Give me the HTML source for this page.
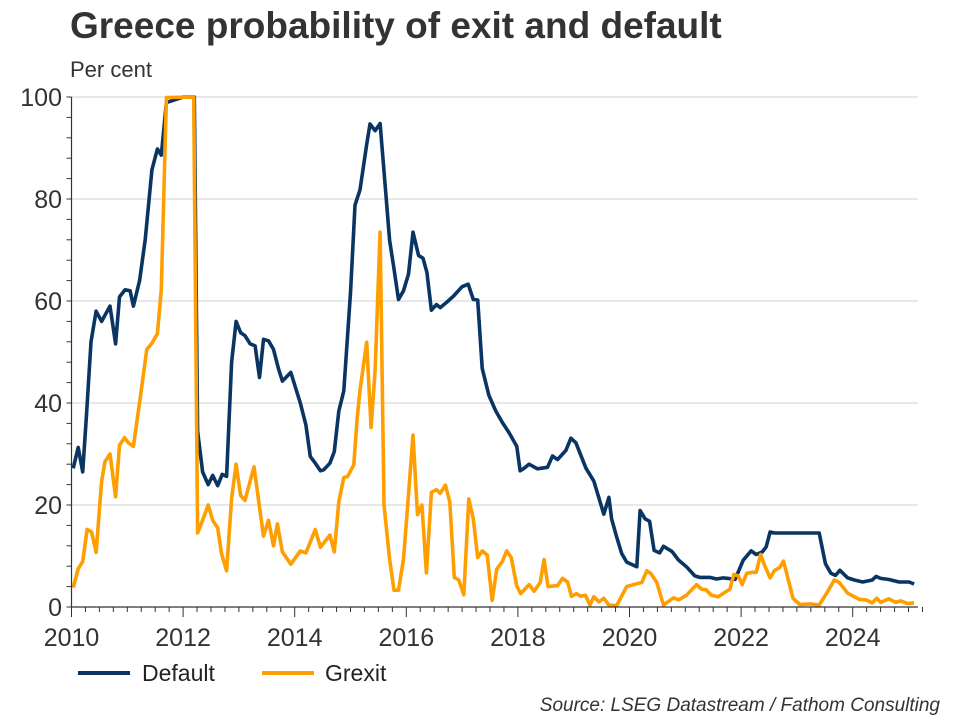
<!DOCTYPE html>
<html><head><meta charset="utf-8"><style>
body{margin:0;background:#fff;font-family:"Liberation Sans",sans-serif}
#c{position:relative;width:960px;height:720px;overflow:hidden}
</style></head><body>
<div id="c">
<svg id="s" width="960" height="720" xmlns="http://www.w3.org/2000/svg" font-family="Liberation Sans">
<text x="70" y="38" font-size="37" font-weight="bold" fill="#333">Greece probability of exit and default</text>
<text x="70" y="77" font-size="22" fill="#333">Per cent</text>
<g id="grid"></g><g id="series"></g><g id="axes"></g>
<g>
<line x1="78" y1="673" x2="130" y2="673" stroke="#0a3563" stroke-width="4"/>
<text x="142" y="681" font-size="23" fill="#222">Default</text>
<line x1="262" y1="673" x2="314" y2="673" stroke="#ff9e00" stroke-width="4"/>
<text x="325" y="681" font-size="23" fill="#222">Grexit</text>
</g>
<text x="940" y="711" font-size="19" font-style="italic" fill="#333" text-anchor="end">Source: LSEG Datastream / Fathom Consulting</text>
</svg>
</div>
<script>
const yTicks=[0,20,40,60,80,100];
const xTicks=[2010,2012,2014,2016,2018,2020,2022,2024];
const defT=[2010.03,2010.12,2010.2,2010.27,2010.35,2010.44,2010.54,2010.69,2010.79,2010.86,2010.96,2011.05,2011.11,2011.22,2011.32,2011.44,2011.54,2011.61,2011.7,2011.92,2012.0,2012.2,2012.26,2012.35,2012.45,2012.53,2012.62,2012.7,2012.78,2012.87,2012.95,2013.03,2013.11,2013.2,2013.29,2013.37,2013.44,2013.53,2013.62,2013.71,2013.78,2013.93,2014.1,2014.2,2014.28,2014.37,2014.46,2014.52,2014.63,2014.71,2014.79,2014.88,2015.0,2015.08,2015.17,2015.29,2015.35,2015.44,2015.53,2015.62,2015.7,2015.78,2015.86,2015.95,2016.04,2016.12,2016.22,2016.3,2016.37,2016.45,2016.54,2016.61,2016.73,2016.85,2017.0,2017.11,2017.2,2017.28,2017.36,2017.48,2017.6,2017.72,2017.84,2017.98,2018.04,2018.11,2018.2,2018.35,2018.53,2018.62,2018.71,2018.86,2018.95,2019.04,2019.22,2019.36,2019.54,2019.63,2019.68,2019.77,2019.86,2019.95,2020.13,2020.19,2020.28,2020.36,2020.44,2020.54,2020.61,2020.76,2020.88,2021.02,2021.17,2021.26,2021.44,2021.56,2021.68,2021.77,2021.89,2022.04,2022.18,2022.27,2022.38,2022.45,2022.52,2022.6,2023.4,2023.51,2023.61,2023.69,2023.77,2023.91,2024.03,2024.18,2024.35,2024.42,2024.5,2024.65,2024.83,2025.01,2025.1];
const defV=[27.2,31.3,26.5,38,52,58,56,59,51.6,60.8,62.2,62,59,64,72,85.7,89.8,88.6,98.9,99.7,100,100,34.5,26.5,24,25.8,23.8,26,25.6,48,56,53.8,53.2,51.6,51.2,45,52.5,52.2,50.5,46.7,44.3,46,40,35.7,29.5,28.2,26.7,26.9,28.2,30.5,38.4,42.4,61.6,78.8,81.8,90.7,94.7,93.4,94.8,82.8,71.9,66.3,60.3,62,65.3,73.5,68.9,68.4,65.6,58.2,59.3,58.7,59.8,61,62.8,63.3,60.3,60.2,46.8,41.5,38.5,36.2,34.2,31.5,26.7,27.2,28,27.1,27.4,29.6,28.9,30.7,33.1,32.2,27.2,24.7,18.2,21.5,17.3,13.7,10.5,8.8,7.9,18.9,17.3,16.8,11.1,10.6,11.9,10.9,9.2,7.9,6.1,5.8,5.8,5.5,5.7,5.6,5.4,9.2,11,10.3,10.8,11.8,14.7,14.5,14.5,8.5,6.6,6.2,7.2,5.7,5.3,4.9,5.3,6.0,5.6,5.4,4.9,4.9,4.5];
const grxT=[2010.03,2010.12,2010.2,2010.28,2010.36,2010.44,2010.54,2010.6,2010.69,2010.79,2010.86,2010.95,2011.02,2011.11,2011.23,2011.35,2011.44,2011.54,2011.61,2011.7,2012.19,2012.26,2012.35,2012.45,2012.53,2012.62,2012.69,2012.78,2012.87,2012.95,2013.03,2013.11,2013.27,2013.44,2013.53,2013.62,2013.69,2013.78,2013.93,2014.1,2014.2,2014.37,2014.46,2014.63,2014.71,2014.79,2014.88,2014.95,2015.06,2015.12,2015.17,2015.29,2015.37,2015.44,2015.53,2015.6,2015.7,2015.78,2015.86,2015.95,2016.04,2016.12,2016.2,2016.28,2016.36,2016.45,2016.54,2016.61,2016.7,2016.78,2016.86,2016.94,2017.03,2017.12,2017.2,2017.28,2017.36,2017.45,2017.54,2017.62,2017.72,2017.8,2017.88,2017.98,2018.05,2018.2,2018.29,2018.4,2018.47,2018.54,2018.71,2018.8,2018.89,2018.96,2019.05,2019.13,2019.21,2019.29,2019.36,2019.45,2019.54,2019.63,2019.77,2019.95,2020.07,2020.22,2020.31,2020.38,2020.49,2020.61,2020.79,2020.88,2021.02,2021.2,2021.29,2021.37,2021.47,2021.59,2021.74,2021.8,2021.87,2021.95,2022.02,2022.1,2022.2,2022.27,2022.35,2022.42,2022.52,2022.6,2022.69,2022.76,2022.93,2023.05,2023.23,2023.4,2023.55,2023.67,2023.76,2023.91,2024.12,2024.24,2024.35,2024.43,2024.5,2024.65,2024.77,2024.86,2024.98,2025.1];
const grxV=[3.8,7.5,8.9,15.2,14.7,10.7,24.6,28.5,30,21.6,31.7,33.2,32.2,31.5,40.8,50.5,51.7,53.6,62.2,99.9,100,14.5,17,20,17,15.5,10.4,7.1,21.3,28,21.9,20.9,27.5,13.9,17,12,16.3,10.8,8.4,11,10.6,15.2,11.7,14.1,10.8,20.6,25.4,25.6,27.9,37.1,42.5,51.9,35.2,46.4,73.5,20,9.4,3.3,3.3,9.4,22,33.7,18.1,20,6.7,22.5,23,22.3,23.9,20.6,5.8,5.3,2.4,21.2,17.3,9.7,11,10.2,1.3,7.4,8.9,11,9.7,4.1,2.6,4.4,3.1,4.8,9.3,4,4.2,5.6,4.9,2.1,2.6,2.1,2.3,0.4,2,1,1.7,0.4,0.3,4,4.4,4.8,7.1,6.6,4.8,0.4,1.8,1.4,2.3,4.4,3.5,3.4,2.3,2,3.1,3.5,6.4,6.1,4.4,6.6,6.8,6.8,10.3,8.2,5.7,7.2,7.7,9,1.7,0.5,0.6,0.4,3,5.3,4.8,2.7,1.5,1.4,0.8,1.7,0.9,1.6,0.9,1.2,0.7,0.8];

const X0=71.5,XL=918,Y0=607,YT=97;
const xs=t=>X0+(t-2010)*55.8;
const ys=v=>Y0-(v/100)*(Y0-YT);
const NS='http://www.w3.org/2000/svg';
function mk(tag,attrs,parent){const e=document.createElementNS(NS,tag);for(const k in attrs)e.setAttribute(k,attrs[k]);parent.appendChild(e);return e;}
const grid=document.getElementById('grid'),axes=document.getElementById('axes'),series=document.getElementById('series');
yTicks.forEach(v=>{
  if(v>0){const g=mk('line',{x1:X0,x2:XL,y1:ys(v),y2:ys(v),stroke:'#d0d0d0','stroke-width':1},grid);
  
  }
  const t=mk('text',{x:62,y:ys(v)+9,'font-size':25,fill:'#333','text-anchor':'end'},axes);t.textContent=v;
  
  
});
for(let v=0;v<=100;v+=4){mk('line',{x1:X0-5,x2:X0,y1:ys(v),y2:ys(v),stroke:'#333','stroke-width':1},axes);}
for(let q=0;q<=61;q++){const t=2010+q/4;const big=(q%8===0);mk('line',{x1:xs(t),x2:xs(t),y1:Y0,y2:Y0+(big?10:5),stroke:'#333','stroke-width':1},axes);}
xTicks.forEach(y=>{const t=mk('text',{x:xs(y),y:646,'font-size':25,fill:'#333','text-anchor':'middle'},axes);t.textContent=y;
  
  });
const ya=mk('line',{x1:X0,x2:X0,y1:YT,y2:Y0,stroke:'#333','stroke-width':1.2},axes);


const xa=mk('line',{x1:X0,x2:XL,y1:Y0,y2:Y0,stroke:'#333','stroke-width':1.2},axes);


function line(T,V,col,name){const d=T.map((t,i)=>(i?'L':'M')+xs(t).toFixed(1)+','+ys(V[i]).toFixed(1)).join('');
  const p=mk('path',{d:d,fill:'none',stroke:col,'stroke-width':3.6,'stroke-linejoin':'round'},series);
  
  }
line(defT,defV,'#0a3563','default-line');
line(grxT,grxV,'#ff9e00','grexit-line');
</script>
</body></html>
